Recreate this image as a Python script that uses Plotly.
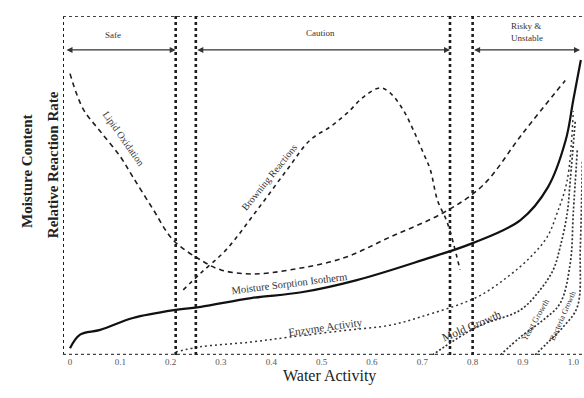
import plotly.graph_objects as go

# ---------------- data ----------------
tick_vals = [0, 0.1, 0.2, 0.3, 0.4, 0.5, 0.6, 0.7, 0.8, 0.9, 1.0]
tick_text = ["0", "0.1", "0.2", "0.3", "0.4", "0.5", "0.6", "0.7", "0.8", "0.9", "1.0"]

zone_bounds = [0.21, 0.25, 0.755, 0.80]
zone_names = ["Safe", "Caution", "Risky &<br>Unstable"]

aw_isotherm = [0.0, 0.02, 0.06, 0.125, 0.21, 0.26, 0.36, 0.46, 0.57, 0.70, 0.80, 0.895, 0.95, 0.985, 1.0, 1.015]
isotherm = [0.02, 0.06, 0.074, 0.109, 0.133, 0.142, 0.168, 0.185, 0.221, 0.280, 0.330, 0.398, 0.496, 0.634, 0.752, 0.87]

aw_lipid = [0.0, 0.026, 0.06, 0.10, 0.125, 0.165, 0.205, 0.26, 0.30, 0.36, 0.437, 0.543, 0.636, 0.741, 0.82, 0.90, 0.984]
lipid = [0.83, 0.726, 0.66, 0.585, 0.525, 0.43, 0.339, 0.28, 0.251, 0.239, 0.251, 0.286, 0.348, 0.419, 0.50, 0.655, 0.81]

aw_browning = [0.225, 0.26, 0.31, 0.372, 0.431, 0.477, 0.517, 0.551, 0.583, 0.616, 0.636, 0.662, 0.682, 0.702, 0.716, 0.73, 0.75, 0.775]
browning = [0.192, 0.242, 0.31, 0.428, 0.546, 0.634, 0.673, 0.714, 0.761, 0.788, 0.773, 0.723, 0.664, 0.596, 0.546, 0.457, 0.389, 0.251]

aw_enzyme = [0.21, 0.258, 0.358, 0.437, 0.537, 0.636, 0.696, 0.809, 0.869, 0.915, 0.948, 0.968, 0.988, 1.0]
enzyme = [0.009, 0.024, 0.038, 0.053, 0.071, 0.088, 0.112, 0.171, 0.23, 0.289, 0.348, 0.419, 0.516, 0.72]

aw_mold = [0.72, 0.809, 0.895, 0.934, 0.96, 0.974, 0.988, 0.994, 1.004]
mold = [0.0, 0.083, 0.133, 0.192, 0.251, 0.319, 0.419, 0.516, 0.693]

aw_yeast = [0.855, 0.895, 0.94, 0.974, 0.994, 1.0, 1.008]
yeast = [0.0, 0.053, 0.103, 0.153, 0.271, 0.419, 0.605]

aw_bacteria = [0.924, 0.948, 0.98, 1.008, 1.014, 1.018]
bacteria = [0.0, 0.035, 0.083, 0.142, 0.319, 0.575]

curve_labels = ["Lipid Oxidation", "Browning Reactions", "Moisture Sorption Isotherm",
                "Enzyme Activity", "Mold Growth", "Yeast Growth", "Bacteria Growth"]

# ---------------- figure ----------------
SERIF = "Liberation Serif, DejaVu Serif, serif"
INK = "#1e1e1e"
X0, X1 = -0.0139, 1.0173

fig = go.Figure()

def add(x, y, dash, width, color=INK):
    fig.add_trace(go.Scatter(x=x, y=y, mode="lines",
                             line=dict(color=color, width=width, dash=dash, shape="spline", smoothing=1.0),
                             hoverinfo="skip", showlegend=False))

add(aw_isotherm, isotherm, "solid", 2.2, "#111")
add(aw_lipid, lipid, "5px,4px", 1.6)
add(aw_browning, browning, "4px,4px", 1.6)
add(aw_enzyme, enzyme, "2px,3px", 1.5, "#333")
add(aw_mold, mold, "2px,2px", 1.7, "#333")
add(aw_yeast, yeast, "2px,2px", 1.7, "#333")
add(aw_bacteria, bacteria, "2px,2px", 1.7, "#333")

shapes = []
shapes.append(dict(type="line", xref="x", yref="y", x0=X0, x1=X0, y0=0, y1=1,
                   line=dict(color=INK, width=2, dash="dot")))
shapes.append(dict(type="line", xref="x", yref="y", x0=X0, x1=X1, y0=0, y1=0,
                   line=dict(color="#444", width=2.5, dash="dot")))
shapes.append(dict(type="line", xref="x", yref="y", x0=X0, x1=X1, y0=1, y1=1,
                   line=dict(color="#444", width=2, dash="dot")))
for b in zone_bounds:
    shapes.append(dict(type="line", xref="x", yref="y", x0=b, x1=b, y0=0, y1=1,
                       line=dict(color=INK, width=2.6, dash="dot")))
fig.update_layout(shapes=shapes)

HEAD_Y = 0.90
spans = [(X0 + 0.004, zone_bounds[0]), (zone_bounds[1], zone_bounds[2]), (zone_bounds[3], X1 - 0.004)]
for a, b in spans:
    fig.add_annotation(x=b, y=HEAD_Y, ax=a, ay=HEAD_Y, xref="x", yref="y", axref="x", ayref="y",
                       text="", showarrow=True, arrowhead=2, arrowsize=1.0, arrowwidth=1.2,
                       arrowcolor="#333", arrowside="end+start", standoff=0, startstandoff=0)

zone_pos = [(0.085, 0.944), (0.497, 0.95), (0.908, 0.954)]
for name, (zx, zy) in zip(zone_names, zone_pos):
    fig.add_annotation(x=zx, y=zy, xref="x", yref="y", text=name, showarrow=False,
                       font=dict(family=SERIF, size=9, color="#333"), align="left")

label_specs = [
    (0.107, 0.64, 55, 10),
    (0.395, 0.525, -51, 10),
    (0.437, 0.212, -7, 10.5),
    (0.507, 0.083, -8, 11),
    (0.797, 0.085, -23, 11.5),
    (0.924, 0.103, -60, 8.5),
    (0.978, 0.115, -66, 8),
]
for txt, (lx, ly, ang, sz) in zip(curve_labels, label_specs):
    fig.add_annotation(x=lx, y=ly, xref="x", yref="y", text=txt, showarrow=False,
                       textangle=ang, font=dict(family=SERIF, size=sz, color="#333"))

fig.add_annotation(x=-0.0886, y=0.54, xref="paper", yref="paper", text="<b>Moisture Content</b>",
                   textangle=-90, showarrow=False, font=dict(family=SERIF, size=15, color="#222"))
fig.add_annotation(x=-0.0385, y=0.56, xref="paper", yref="paper", text="<b>Relative Reaction Rate</b>",
                   textangle=-90, showarrow=False, font=dict(family=SERIF, size=15, color="#222"))
fig.add_annotation(x=0.514, y=-0.094, xref="paper", yref="paper", text="Water Activity",
                   showarrow=False, font=dict(family=SERIF, size=16, color="#222"))

fig.update_xaxes(range=[X0, X1], tickvals=tick_vals, ticktext=tick_text, showgrid=False,
                 zeroline=False, showline=False, ticks="",
                 tickfont=dict(family=SERIF, size=9, color="#555"))
fig.update_yaxes(range=[0, 1], showticklabels=False, showgrid=False, zeroline=False, showline=False)

fig.update_layout(width=584, height=398, margin=dict(l=63, r=2, t=16, b=43),
                  paper_bgcolor="white", plot_bgcolor="white")

fig.write_html("out.html", config={"displayModeBar": False},
               post_script="document.body.style.margin='0';document.body.style.overflow='hidden';")
